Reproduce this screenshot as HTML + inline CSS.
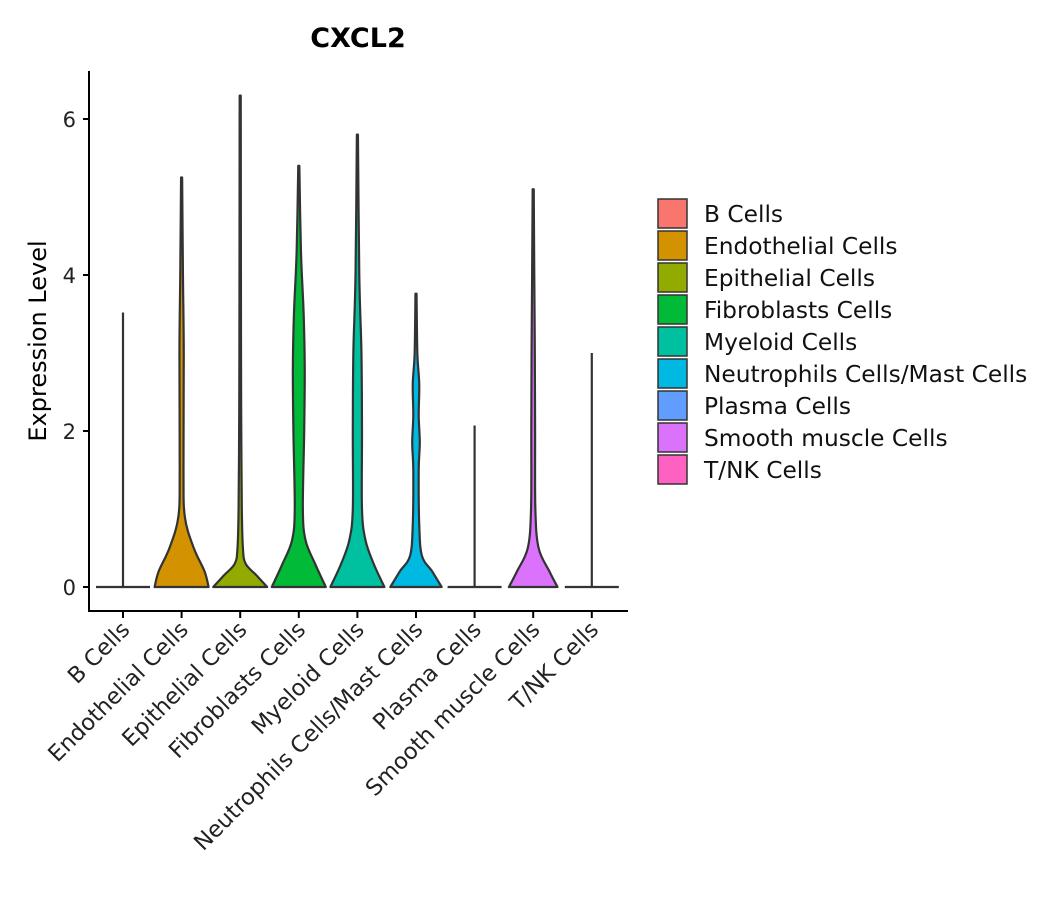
<!DOCTYPE html>
<html><head><meta charset="utf-8"><style>
body{margin:0;background:#fff;width:1057px;height:900px;overflow:hidden}
text{font-family:"DejaVu Sans","Liberation Sans",sans-serif}
</style></head><body>
<svg id="chart" width="1057" height="900" xmlns="http://www.w3.org/2000/svg">
<text x="358" y="47" font-size="27" font-weight="bold" text-anchor="middle">CXCL2</text>
<text transform="translate(46,341) rotate(-90)" font-size="24" text-anchor="middle">Expression Level</text>
<g id="plot"></g>
<g id="legend"></g>
</svg>
<script>
const categories=["B Cells","Endothelial Cells","Epithelial Cells","Fibroblasts Cells","Myeloid Cells","Neutrophils Cells/Mast Cells","Plasma Cells","Smooth muscle Cells","T/NK Cells"];
const colors=["#F8766D","#D39200","#93AA00","#00BA38","#00C19F","#00B9E3","#619CFF","#DB72FB","#FF61C3"];
const maxValues=[3.52,5.25,6.3,5.4,5.8,3.76,2.07,5.1,3.0];
const yTicks=[0,2,4,6];
// density profiles: [expression, relative density]
const densEndo=[[0,1],[0.2,0.85],[0.5,0.45],[0.9,0.12],[1.5,0.07],[3,0.08],[4,0.05],[5.25,0.02]];
const densEpi=[[0,1],[0.15,0.6],[0.3,0.2],[0.5,0.1],[1,0.06],[2,0.04],[3,0.03],[6.3,0.02]];
const densFib=[[0,1],[0.3,0.6],[0.6,0.25],[1,0.15],[2,0.2],[2.8,0.22],[3.5,0.18],[4.3,0.08],[5.4,0.02]];
const densMye=[[0,1],[0.3,0.6],[0.6,0.3],[1,0.17],[2,0.17],[3,0.15],[4,0.07],[5.8,0.02]];
const densNeu=[[0,0.95],[0.2,0.6],[0.4,0.22],[0.8,0.12],[1.5,0.1],[1.85,0.14],[2.2,0.1],[2.6,0.12],[3,0.05],[3.76,0.02]];
const densSmo=[[0,0.9],[0.2,0.6],[0.5,0.2],[1,0.08],[2,0.07],[3,0.06],[4,0.04],[5.1,0.02]];
const densities=[null,densEndo,densEpi,densFib,densMye,densNeu,null,densSmo,null];

const NS="http://www.w3.org/2000/svg";
const y=v=>587-v*78;
const x=i=>123+i*58.6;
const HW=27;
const plot=document.getElementById('plot');
function mk(tag,attrs,parent){const e=document.createElementNS(NS,tag);for(const k in attrs)e.setAttribute(k,attrs[k]);(parent||plot).appendChild(e);return e;}
function smooth(pts){
  let s='';
  for(let k=0;k<pts.length-1;k++){
    const p0=pts[Math.max(k-1,0)],p1=pts[k],p2=pts[k+1],p3=pts[Math.min(k+2,pts.length-1)];
    const c1=[p1[0]+(p2[0]-p0[0])/6,p1[1]+(p2[1]-p0[1])/6];
    const c2=[p2[0]-(p3[0]-p1[0])/6,p2[1]-(p3[1]-p1[1])/6];
    s+=` C${c1[0]},${c1[1]} ${c2[0]},${c2[1]} ${p2[0]},${p2[1]}`;
  }
  return s;
}
categories.forEach((c,i)=>{
  const cx=x(i);const d=densities[i];
  if(!d){
    const g=mk('path',{d:`M${cx-HW},${y(0)}H${cx+HW}M${cx},${y(0)}V${y(maxValues[i])}`,stroke:'#333',"stroke-width":2.2,fill:'none'});
    
    
    return;
  }
  const right=d.map(p=>[cx+p[1]*HW,y(p[0])]);
  const left=d.map(p=>[cx-p[1]*HW,y(p[0])]).reverse();
  let path=`M${cx},${y(0)} L${right[0][0]},${right[0][1]}`+smooth(right)+` L${cx},${y(maxValues[i])} L${left[0][0]},${left[0][1]}`+smooth(left)+' Z';
  const v=mk('path',{d:path,fill:colors[i],stroke:'#333',"stroke-width":2.2,"stroke-linejoin":"round"});
  
  
});
const ax=mk('path',{d:'M89,71V611H628',stroke:'#000',"stroke-width":2,fill:'none'});


yTicks.forEach(t=>{
  mk('line',{x1:83,x2:89,y1:y(t),y2:y(t),stroke:'#000',"stroke-width":2});
  const tx=mk('text',{x:76,y:y(t)+8,"font-size":21,"text-anchor":"end",fill:'#222'});
  tx.textContent=t;
  
  
});
categories.forEach((c,i)=>{
  mk('line',{x1:x(i),x2:x(i),y1:611,y2:618,stroke:'#000',"stroke-width":2});
  const tx=mk('text',{transform:`translate(${x(i)+8},631) rotate(-45)`,"font-size":22.5,"text-anchor":"end",fill:'#222'});
  tx.textContent=c;
  
  
});
const lg=document.getElementById('legend');
categories.forEach((c,i)=>{
  const yy=199+i*32;
  const r=mk('rect',{x:658,y:yy,width:29,height:29,fill:colors[i],stroke:'#333',"stroke-width":1.5},lg);
  
  
  const t=mk('text',{x:704,y:yy+23,"font-size":23.3,fill:'#111'},lg);
  t.textContent=c;
  
  
});
</script>
</body></html>
